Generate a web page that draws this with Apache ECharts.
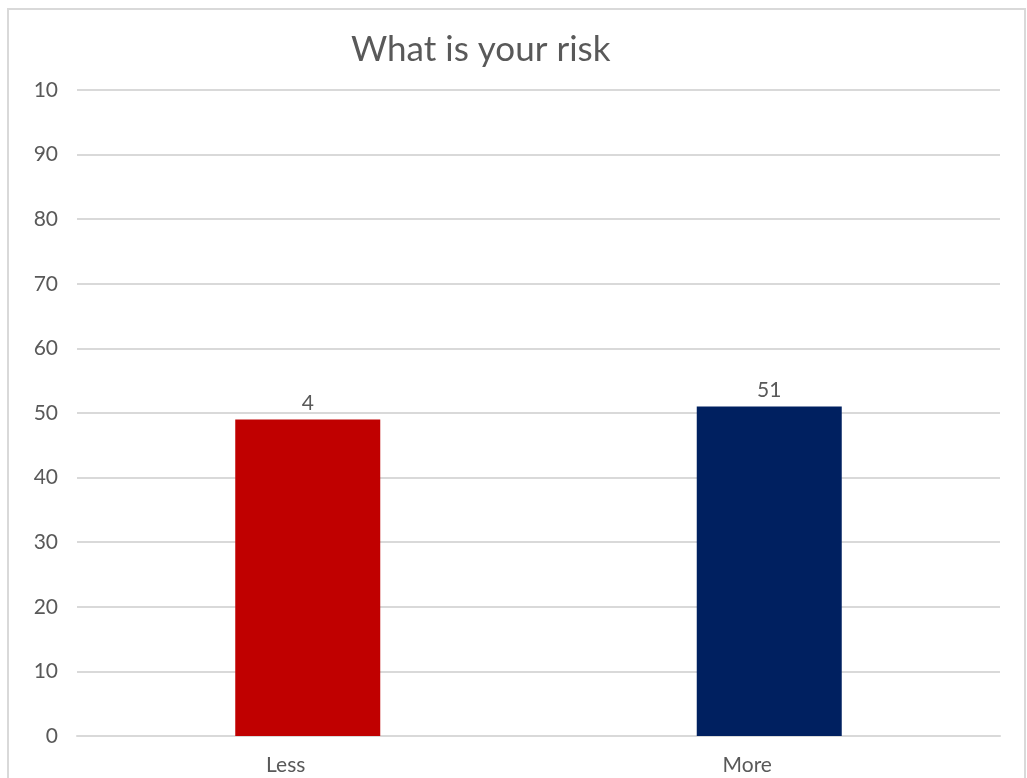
<!DOCTYPE html>
<html>
<head>
<meta charset="utf-8">
<script src="https://cdn.jsdelivr.net/npm/echarts@6/dist/echarts.min.js"></script>
<style>
  html, body { margin: 0; padding: 0; background: #ffffff; }
  #chart { width: 1027px; height: 778px; }
</style>
</head>
<body>
<div id="chart"></div>
<script>
// Survey answers: perceived risk
const categories = ['Less', 'More'];
const values = [49, 51];
const barColors = ['#C00000', '#002060'];
const yMin = 0;
const yMax = 100;
const yStep = 10;

const textColor = '#595959';
const gridColor = '#D9D9D9';
const fontFamily = 'Lato, "Noto Sans", sans-serif';

const chart = echarts.init(document.getElementById('chart'), null, { renderer: 'canvas' });

const barData = values.map((v, i) => ({
  value: v,
  itemStyle: { color: barColors[i] },
  // the "Less" value label shows only its leading digit
  label: i === 0 ? { width: 14, overflow: 'truncate', ellipsis: '' } : undefined
}));

chart.setOption({
  animation: false,
  backgroundColor: '#ffffff',
  title: {
    text: 'What is your risk',
    left: 346,
    top: 27,
    textStyle: { color: textColor, fontFamily: fontFamily, fontSize: 35, fontWeight: 'normal' }
  },
  graphic: [{
    type: 'rect',
    shape: { x: 8, y: 9, width: 1017, height: 800 },
    style: { fill: 'none', stroke: gridColor, lineWidth: 2 },
    silent: true,
    z: -1
  }],
  grid: { left: 77, right: 27, top: 90, bottom: 42, containLabel: false },
  xAxis: {
    type: 'category',
    data: categories,
    axisLine: { show: true, lineStyle: { color: gridColor, width: 2 } },
    axisTick: { show: false },
    axisLabel: {
      color: textColor, fontFamily: fontFamily, fontSize: 21,
      margin: 19, padding: [0, 44, 0, 0]
    }
  },
  yAxis: {
    type: 'value',
    min: yMin,
    max: yMax,
    interval: yStep,
    axisLine: { show: false },
    axisTick: { show: false },
    splitLine: { lineStyle: { color: gridColor, width: 2 } },
    axisLabel: {
      color: textColor, fontFamily: fontFamily, fontSize: 21,
      margin: 19, padding: [12, 0, 0, 0],
      width: 26, overflow: 'truncate', ellipsis: ''
    }
  },
  series: [{
    type: 'bar',
    data: barData,
    barWidth: 145,
    label: {
      show: true,
      position: 'top',
      distance: 6,
      color: textColor,
      fontFamily: fontFamily,
      fontSize: 21
    }
  }]
});
</script>
</body>
</html>
